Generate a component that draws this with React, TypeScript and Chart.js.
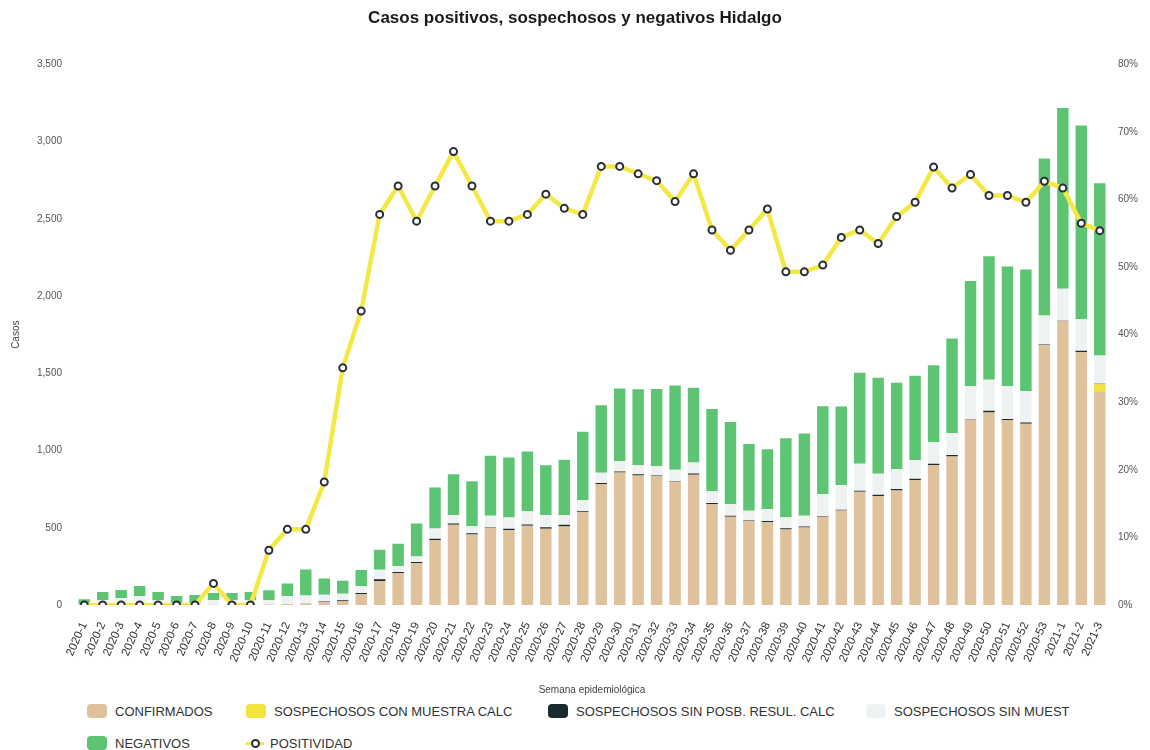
import React, { useEffect, useRef } from "react";
import { Chart, registerables } from "chart.js";

Chart.register(...registerables);

const semanas: string[] = [
  "2020-1","2020-2","2020-3","2020-4","2020-5","2020-6","2020-7","2020-8","2020-9","2020-10",
  "2020-11","2020-12","2020-13","2020-14","2020-15","2020-16","2020-17","2020-18","2020-19","2020-20",
  "2020-21","2020-22","2020-23","2020-24","2020-25","2020-26","2020-27","2020-28","2020-29","2020-30",
  "2020-31","2020-32","2020-33","2020-34","2020-35","2020-36","2020-37","2020-38","2020-39","2020-40",
  "2020-41","2020-42","2020-43","2020-44","2020-45","2020-46","2020-47","2020-48","2020-49","2020-50",
  "2020-51","2020-52","2020-53","2021-1","2021-2","2021-3",
];

const confirmados: number[] = [
  0, 0, 0, 0, 0, 0, 0, 2, 0, 0,
  3, 6, 12, 18, 26, 70, 155, 205, 270, 419,
  519, 457, 500, 485, 513, 494, 509, 600, 783, 858,
  839, 834, 798, 843, 653, 571, 543, 535, 489, 502,
  569, 612, 733, 705, 742, 809, 906, 962, 1201, 1246,
  1197, 1173, 1682, 1837, 1638, 1384,
];

const sospConMuestra: number[] = [
  0, 0, 0, 0, 0, 0, 0, 0, 0, 0,
  0, 0, 0, 0, 0, 0, 0, 0, 0, 0,
  0, 0, 0, 0, 0, 0, 0, 0, 0, 0,
  0, 0, 0, 0, 0, 0, 0, 0, 0, 0,
  0, 0, 0, 0, 0, 0, 0, 0, 0, 0,
  0, 0, 0, 0, 0, 45,
];

const sospSinPosb: number[] = [
  0, 0, 0, 0, 0, 0, 0, 0, 0, 0,
  0, 0, 0, 4, 5, 8, 12, 8, 8, 10,
  9, 7, 3, 8, 8, 10, 11, 7, 7, 7,
  7, 4, 3, 9, 7, 7, 4, 9, 8, 7,
  4, 4, 7, 8, 9, 8, 8, 9, 4, 12,
  8, 9, 5, 3, 8, 4,
];

const sospSinMuestra: number[] = [
  5, 32, 45, 58, 32, 13, 13, 30, 32, 32,
  28, 50, 50, 45, 42, 45, 62, 40, 36, 66,
  53, 47, 75, 74, 88, 78, 61, 71, 66, 67,
  59, 62, 75, 70, 77, 74, 64, 76, 71, 69,
  146, 161, 174, 137, 128, 122, 142, 141, 212, 200,
  211, 203, 187, 208, 206, 183,
];

const negativos: number[] = [
  32, 52, 52, 65, 52, 45, 52, 45, 45, 52,
  65, 84, 168, 104, 84, 103, 129, 144, 213, 265,
  265, 291, 388, 388, 384, 323, 360, 444, 438, 470,
  492, 498, 545, 485, 532, 532, 431, 388, 511, 532,
  567, 508, 589, 621, 560, 545, 496, 614, 680, 800,
  775, 787, 1016, 1169, 1253, 1114,
];

const positividad: number[] = [
  0, 0, 0, 0, 0, 0, 0, 3.2, 0, 0,
  8.1, 11.2, 11.2, 18.2, 35.1, 43.5, 57.8, 62, 56.8, 62,
  67.1, 62, 56.8, 56.8, 57.8, 60.8, 58.7, 57.8, 64.9, 64.9,
  63.8, 62.8, 59.7, 63.8, 55.5, 52.5, 55.5, 58.6, 49.3, 49.3,
  50.3, 54.4, 55.5, 53.5, 57.5, 59.6, 64.8, 61.7, 63.7, 60.6,
  60.6, 59.6, 62.7, 61.7, 56.5, 55.4,
];

const casosTicks: number[] = [0, 500, 1000, 1500, 2000, 2500, 3000, 3500];
const pctTicks: number[] = [0, 10, 20, 30, 40, 50, 60, 70, 80];

const FONT = "'Liberation Sans', Arial, Helvetica, sans-serif";

const COLORS = {
  confirmados: "#dfc29c",
  conMuestra: "#f4e33c",
  sinPosb: "#1b2b30",
  sinMuestra: "#eff2f2",
  negativos: "#5dc474",
  positividad: "#f3e946",
  punto: "#2a2d3a",
};

const legendItems = [
  { label: "CONFIRMADOS", color: COLORS.confirmados, row: 0, x: 87 },
  { label: "SOSPECHOSOS CON MUESTRA CALC", color: COLORS.conMuestra, row: 0, x: 246 },
  { label: "SOSPECHOSOS SIN POSB. RESUL. CALC", color: COLORS.sinPosb, row: 0, x: 548 },
  { label: "SOSPECHOSOS SIN MUEST", color: COLORS.sinMuestra, row: 0, x: 866 },
  { label: "NEGATIVOS", color: COLORS.negativos, row: 1, x: 87 },
];

export default function App() {
  const canvasRef = useRef<HTMLCanvasElement | null>(null);

  useEffect(() => {
    if (!canvasRef.current) return;
    const barCommon = {
      type: "bar" as const,
      yAxisID: "y",
      stack: "casos",
      barPercentage: 0.62,
      categoryPercentage: 1,
      borderWidth: 0,
      order: 2,
    };
    const chart = new Chart(canvasRef.current, {
      type: "bar",
      data: {
        labels: semanas,
        datasets: [
          {
            type: "line",
            label: "POSITIVIDAD",
            data: positividad,
            yAxisID: "y1",
            borderColor: COLORS.positividad,
            borderWidth: 4.5,
            pointRadius: 3.5,
            pointBorderWidth: 2,
            pointBackgroundColor: "#ffffff",
            pointBorderColor: COLORS.punto,
            tension: 0,
            order: 0,
          } as any,
          { ...barCommon, label: "CONFIRMADOS", data: confirmados, backgroundColor: COLORS.confirmados },
          { ...barCommon, label: "SOSPECHOSOS CON MUESTRA CALC", data: sospConMuestra, backgroundColor: COLORS.conMuestra },
          { ...barCommon, label: "SOSPECHOSOS SIN POSB. RESUL. CALC", data: sospSinPosb, backgroundColor: COLORS.sinPosb },
          { ...barCommon, label: "SOSPECHOSOS SIN MUEST", data: sospSinMuestra, backgroundColor: COLORS.sinMuestra },
          { ...barCommon, label: "NEGATIVOS", data: negativos, backgroundColor: COLORS.negativos },
        ],
      },
      options: {
        responsive: false,
        animation: false,
        layout: { padding: { left: 0, right: 0, top: 0, bottom: 0 } },
        plugins: {
          legend: { display: false },
          tooltip: { enabled: false },
          title: {
            display: true,
            text: "Casos positivos, sospechosos y negativos Hidalgo",
            color: "#1a1a1a",
            font: { family: FONT, size: 17, weight: "bold" },
            padding: { top: 8, bottom: 36 },
          },
        },
        scales: {
          x: {
            stacked: true,
            grid: { display: false, drawTicks: false },
            border: { display: false },
            ticks: {
              autoSkip: false,
              minRotation: 66,
              maxRotation: 66,
              padding: 15,
              color: "#333333",
              font: { family: FONT, size: 11.5 },
            },
            title: {
              display: true,
              text: "Semana epidemiológica",
              color: "#444444",
              font: { family: FONT, size: 10 },
              padding: { top: 2, bottom: 4 },
            },
            afterFit: (scale: any) => {
              scale.height = 95;
            },
          },
          y: {
            stacked: true,
            position: "left",
            min: 0,
            max: 3500,
            grid: { display: false, drawTicks: false },
            border: { display: false },
            afterBuildTicks: (scale: any) => {
              scale.ticks = casosTicks.map((v) => ({ value: v }));
            },
            ticks: {
              padding: 13,
              color: "#555555",
              font: { family: FONT, size: 10 },
              callback: (v: any) => Number(v).toLocaleString("en-US"),
            },
            title: {
              display: true,
              text: "Casos",
              color: "#444444",
              font: { family: FONT, size: 10 },
              padding: { top: 10, bottom: 0 },
            },
            afterFit: (scale: any) => {
              scale.width = 75;
            },
          },
          y1: {
            position: "right",
            min: 0,
            max: 80,
            grid: { display: false, drawTicks: false },
            border: { display: false },
            afterBuildTicks: (scale: any) => {
              scale.ticks = pctTicks.map((v) => ({ value: v }));
            },
            ticks: {
              padding: 9,
              color: "#555555",
              font: { family: FONT, size: 10 },
              callback: (v: any) => v + "%",
            },
            afterFit: (scale: any) => {
              scale.width = 41;
            },
          },
        },
      },
    });
    return () => chart.destroy();
  }, []);

  return (
    <div style={{ position: "absolute", left: 0, top: 0, width: 1150, height: 750, background: "#ffffff", fontFamily: FONT }}>
      <canvas ref={canvasRef} width={1150} height={700} style={{ display: "block" }} />
      {legendItems.map((it) => (
        <div
          key={it.label}
          style={{
            position: "absolute",
            left: it.x,
            top: it.row === 0 ? 703 : 735,
            height: 16,
            display: "flex",
            alignItems: "center",
            fontSize: 13,
            color: "#333333",
            whiteSpace: "nowrap",
          }}
        >
          <span
            style={{
              display: "inline-block",
              width: 20,
              height: 14,
              borderRadius: 4,
              background: it.color,
              marginRight: 8,
            }}
          />
          {it.label}
        </div>
      ))}
      <div
        style={{
          position: "absolute",
          left: 246,
          top: 735,
          height: 16,
          display: "flex",
          alignItems: "center",
          fontSize: 13,
          color: "#333333",
          whiteSpace: "nowrap",
        }}
      >
        <span style={{ position: "relative", display: "inline-block", width: 18, height: 14, marginRight: 6 }}>
          <span style={{ position: "absolute", left: 0, top: 6, width: 18, height: 3, background: COLORS.positividad }} />
          <span
            style={{
              position: "absolute",
              left: 5,
              top: 3,
              width: 5,
              height: 5,
              borderRadius: "50%",
              background: "#ffffff",
              border: "2px solid " + COLORS.punto,
            }}
          />
        </span>
        POSITIVIDAD
      </div>
    </div>
  );
}
